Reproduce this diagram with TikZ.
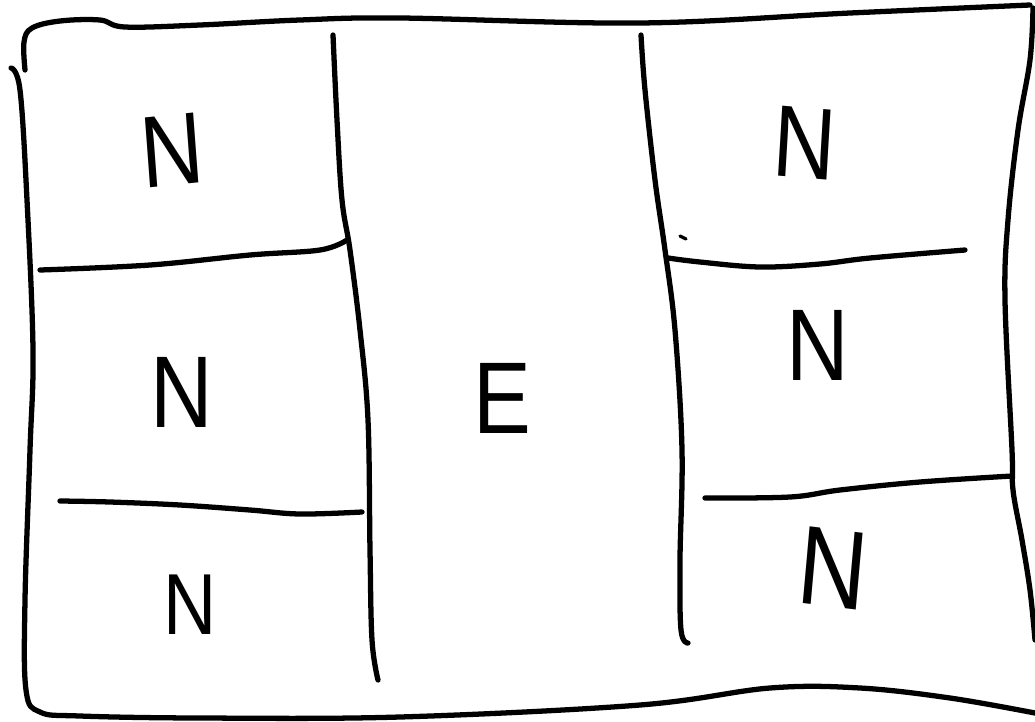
\documentclass[tikz,border=0pt]{standalone}
\usepackage{fontspec}
\setmainfont{Liberation Sans}
\usepackage{tikz}

\begin{document}
\begin{tikzpicture}[x=0.02cm, y=-0.02cm,
  pen/.style={line width=3pt, line cap=round, line join=round},
  lbl/.style={font=\fontsize{58}{60}\selectfont, inner sep=0pt, xscale=0.85}]
  \useasboundingbox (0,0) rectangle (1035,721);
  \fill[white] (0,0) rectangle (1035,721);
  \draw[pen] plot[smooth, tension=0.6] coordinates {(25,70) (24,42) (32,28) (60,21) (100,20) (125,27) (200,25) (300,20) (400,18) (640,23) (850,13) (1030,5)};
  \draw[pen] plot[smooth, tension=0.6] coordinates {(11,68) (20,90) (27,200) (33,350) (30,450) (25,600) (26,690) (40,712) (80,716) (200,718) (400,717) (640,705) (770,688) (860,688) (950,698) (1035,713)};
  \draw[pen] plot[smooth, tension=0.6] coordinates {(1033,8) (1030,60) (1018,130) (1008,220) (1005,300) (1012,450) (1013,490) (1022,540) (1030,590) (1035,640)};
  \draw[pen] plot[smooth, tension=0.6] coordinates {(333,35) (337,120) (342,200) (350,250) (360,330) (368,420) (370,550) (372,640) (378,680)};
  \draw[pen] plot[smooth, tension=0.6] coordinates {(641,35) (645,90) (655,180) (665,250) (675,330) (682,450) (680,560) (681,630) (688,643)};
  \draw[pen] plot[smooth, tension=0.6] coordinates {(40,270) (150,265) (250,255) (320,250) (347,240)};
  \draw[pen] plot[smooth, tension=0.6] coordinates {(60,501) (110,502) (180,505) (250,510) (300,514) (362,512)};
  \draw[pen] plot[smooth, tension=0.6] coordinates {(668,258) (700,262) (760,267) (820,264) (870,258) (965,250)};
  \draw[pen] plot[smooth, tension=0.6] coordinates {(705,498) (790,497) (840,490) (920,482) (1012,476)};
  \draw[line width=1.8pt, line cap=round] (680,236) -- (686,239);
  \node[lbl, rotate=5] (nl1) at (172,150) {N};
  \node[lbl] (nl2) at (182,392) {N};
  \node[lbl, scale=0.85] (nl3) at (190,605) {N};
  \node[lbl] (ne) at (502,398) {E};
  \node[lbl, rotate=-4] (nr1) at (805,143) {N};
  \node[lbl] (nr2) at (818,345) {N};
  \node[lbl, scale=1.1, rotate=-6] (nr3) at (833,568) {N};
\end{tikzpicture}
\end{document}
